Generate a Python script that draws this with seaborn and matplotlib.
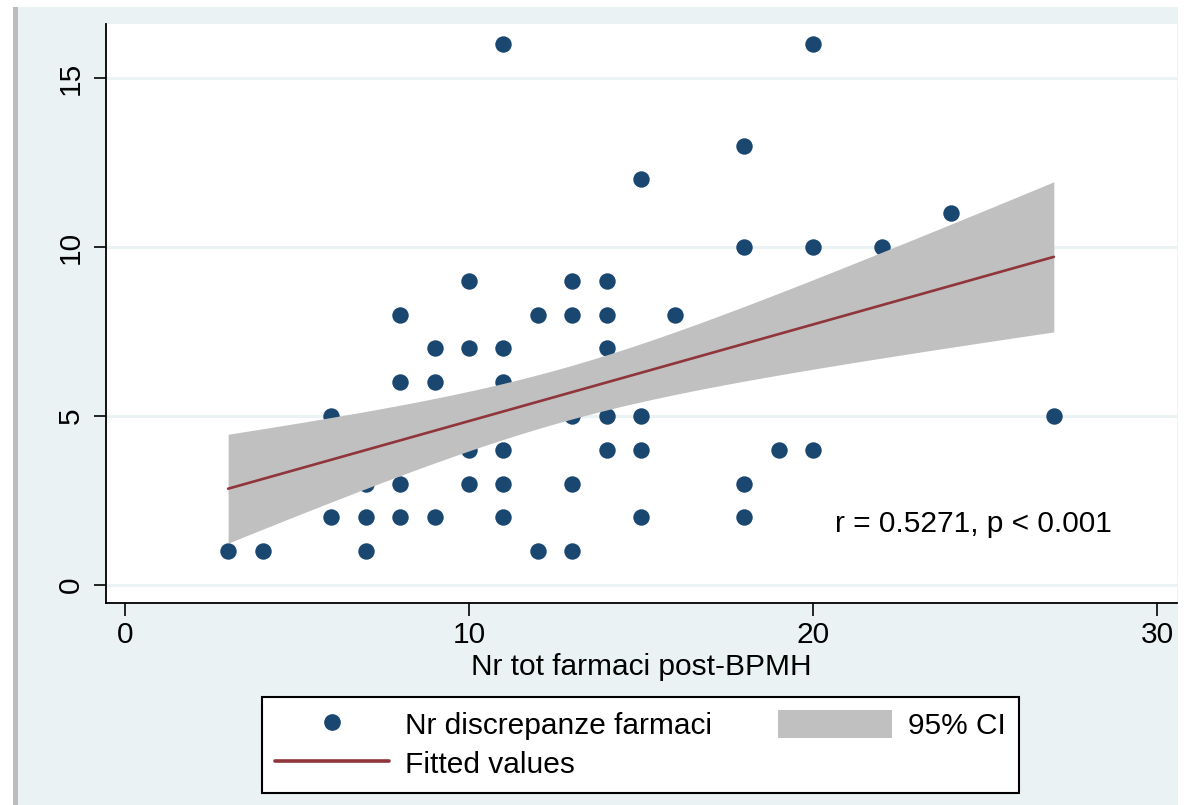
import numpy as np
import pandas as pd
import matplotlib
matplotlib.use("Agg")
import matplotlib.pyplot as plt
from matplotlib.patches import Rectangle
from matplotlib.lines import Line2D
import seaborn as sns

# Nr tot farmaci post-BPMH (x) and Nr discrepanze farmaci (y)
n_farmaci = [3,
             4, 4, 4,
             5,
             6, 6,
             7, 7, 7,
             8, 8, 8, 8, 8,
             9, 9, 9, 9, 9,
             10, 10, 10, 10,
             11, 11, 11, 11, 11, 11,
             12, 12, 12,
             13, 13, 13, 13, 13,
             14, 14, 14, 14, 14,
             15, 15, 15, 15,
             16, 16,
             18, 18, 18, 18,
             19,
             20, 20, 20,
             21,
             22, 22,
             24,
             25,
             27]
n_discrepanze = [1,
                 4, 2, 1,
                 4,
                 5, 2,
                 3, 2, 1,
                 8, 6, 5, 3, 2,
                 7, 6, 5, 4, 2,
                 9, 7, 4, 3,
                 16, 7, 6, 4, 3, 2,
                 8, 5, 1,
                 9, 8, 5, 3, 1,
                 9, 8, 7, 5, 4,
                 12, 5, 4, 2,
                 8, 6,
                 13, 10, 3, 2,
                 4,
                 16, 10, 4,
                 7,
                 10, 7,
                 11,
                 8,
                 5]
x_ticks = [0, 10, 20, 30]
y_ticks = [0, 5, 10, 15]
annot_text = "r = 0.5271, p < 0.001"

df = pd.DataFrame({"farmaci": n_farmaci, "discrepanze": n_discrepanze})

navy = "#1a476f"
maroon = "#90353b"
ci_grey = "#c0c0c0"
panel = "#eaf2f3"
FS = 21.5

sns.set_theme(style="white")
plt.rcParams["font.family"] = ["Liberation Sans", "DejaVu Sans"]
plt.rcParams["text.color"] = "black"
plt.rcParams["axes.labelcolor"] = "black"
plt.rcParams["xtick.color"] = "black"
plt.rcParams["ytick.color"] = "black"

fig = plt.figure(figsize=(11.86, 8.05), dpi=100)
W, H = 1186, 805

# outer Stata-like panel and left grey edge
fig.patches.append(Rectangle((18 / W, 0), (1178 - 18) / W, 1 - 7 / H,
                             transform=fig.transFigure, facecolor=panel,
                             edgecolor="none", zorder=-10))
fig.patches.append(Rectangle((13 / W, 0), 5 / W, 1 - 7 / H,
                             transform=fig.transFigure, facecolor="#bdbdbd",
                             edgecolor="none", zorder=-10))

ax = fig.add_axes([106 / W, 1 - 603 / H, (1177 - 106) / W, (603 - 24) / H])
ax.set_facecolor("white")

# points first, then the CI band and fitted line on top (as in the original)
sns.scatterplot(data=df, x="farmaci", y="discrepanze", ax=ax, color=navy,
                s=140, linewidth=0, zorder=3)

# analytic 95% CI of the linear fit (like Stata lfitci)
x = df["farmaci"].to_numpy(float)
y = df["discrepanze"].to_numpy(float)
n = len(x)
b1, b0 = np.polyfit(x, y, 1)
resid = y - (b0 + b1 * x)
s_err = np.sqrt(np.sum(resid ** 2) / (n - 2))
xg = np.linspace(x.min(), x.max(), 200)
se = s_err * np.sqrt(1 / n + (xg - x.mean()) ** 2 / np.sum((x - x.mean()) ** 2))
t_val = 2.0
yfit = b0 + b1 * xg
ax.fill_between(xg, yfit - t_val * se, yfit + t_val * se, color=ci_grey,
                linewidth=0, zorder=4)

sns.regplot(data=df, x="farmaci", y="discrepanze", ax=ax, scatter=False,
            ci=None, line_kws={"color": maroon, "lw": 1.9, "zorder": 5})

ax.set_xlim(-0.55, 30.58)
ax.set_ylim(-0.53, 16.6)
ax.set_xticks(x_ticks)
ax.set_yticks(y_ticks)
ax.grid(False)
for yv in y_ticks:
    ax.axhline(yv, color=panel, lw=2.2, zorder=1)

for s in ["top", "right"]:
    ax.spines[s].set_visible(False)
for s in ["left", "bottom"]:
    ax.spines[s].set_color("black")
    ax.spines[s].set_linewidth(1.3)

ax.tick_params(axis="both", which="major", direction="out", length=9,
               width=1.2, color="black", labelsize=FS, left=True, bottom=True)
ax.tick_params(axis="y", pad=6)
ax.tick_params(axis="x", pad=4)
for lbl in ax.get_yticklabels():
    lbl.set_rotation(90)
    lbl.set_va("center")

ax.set_xlabel("Nr tot farmaci post-BPMH", fontsize=FS, labelpad=3)
ax.set_ylabel("")

ax.text(20.64, 1.8, annot_text, fontsize=FS, ha="left", va="center",
        color="black", zorder=6)

handles = [
    Line2D([], [], marker="o", linestyle="none", color=navy, markersize=11),
    Line2D([], [], color=maroon, lw=2.6),
    Rectangle((0, 0), 1, 1, facecolor=ci_grey, edgecolor="none"),
]
labels = ["Nr discrepanze farmaci", "Fitted values", "95% CI"]
leg = fig.legend(handles, labels, ncol=2, loc="upper left",
                 bbox_to_anchor=(262 / W, 1 - 697 / H), fontsize=FS,
                 frameon=True, fancybox=False, handlelength=3.8,
                 handleheight=1.05, handletextpad=0.55, columnspacing=2.2,
                 labelspacing=0.3, borderpad=0.45, borderaxespad=0)
frame = leg.get_frame()
frame.set_edgecolor("black")
frame.set_linewidth(1.5)
frame.set_facecolor("white")
frame.set_alpha(1)

fig.savefig("out.png", dpi=100)
